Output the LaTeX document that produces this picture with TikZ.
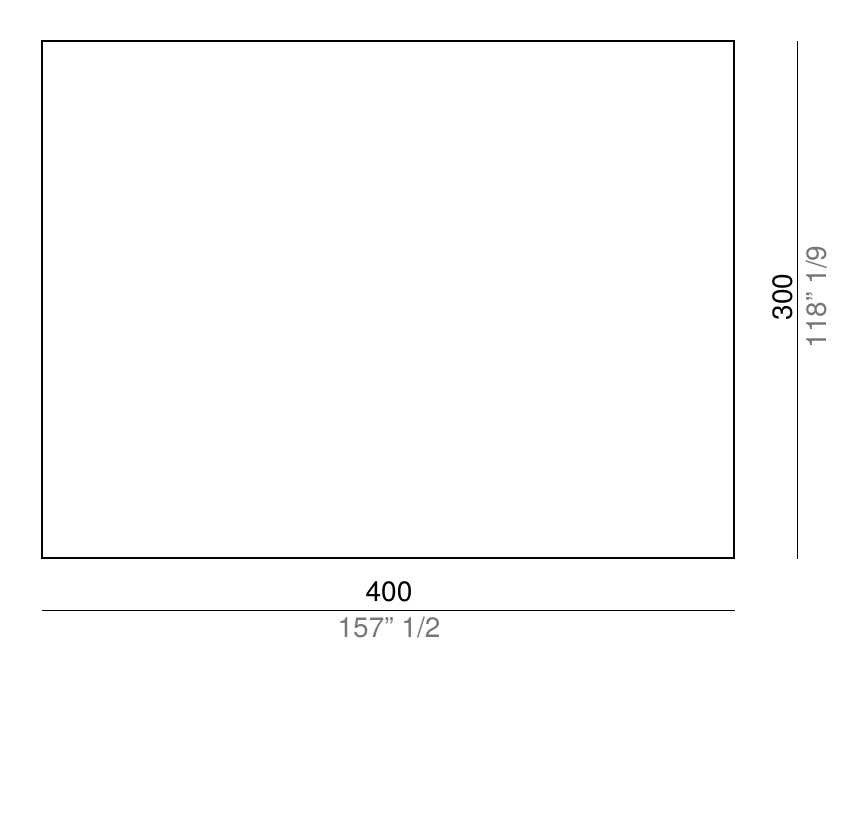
\documentclass[tikz,border=0pt]{standalone}
\usepackage{fontspec}
\setmainfont{TeX Gyre Heros}
\definecolor{dimgray}{RGB}{118,118,118}

\begin{document}
\begin{tikzpicture}[x=0.75pt, y=-0.75pt]
\tikzset{
  dimtext/.style={anchor=base, inner sep=0pt, font=\fontsize{21}{25}\selectfont},
  inchtext/.style={dimtext, text=dimgray},
  dimline/.style={line width=0.75pt}
}
\useasboundingbox (0,0) rectangle (868,835);
\node[draw, line width=1.5pt, minimum width=692*0.75pt, minimum height=517*0.75pt, inner sep=0pt](panel) at (388,299.5){};
% width
\coordinate (wl) at (42,610);
\coordinate (wr) at (735,610);
\draw[dimline] (wl)--(wr);
\node[dimtext](w) at (389,601){400};
\node[inchtext](wi) at (389,637){157” 1/2};
% height
\coordinate (ht) at (797,41);
\coordinate (hb) at (797,559);
\draw[dimline] (ht)--(hb);
\node[dimtext, rotate=90](h) at (792,297){300};
\node[inchtext, rotate=90](hi) at (826,297){118” 1/9};
\end{tikzpicture}
\end{document}
